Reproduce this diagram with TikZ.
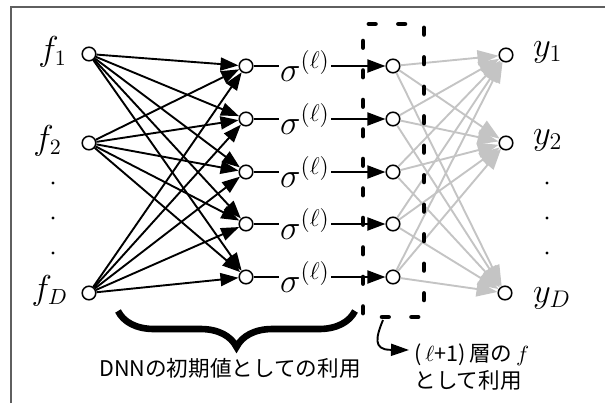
\documentclass[tikz,border=0pt]{standalone}
\usepackage{fontspec}
\newfontfamily\cjk{Noto Sans CJK JP}
\usetikzlibrary{arrows.meta,decorations.pathreplacing}
\definecolor{edgegray}{RGB}{196,196,196}
\definecolor{framegray}{RGB}{95,95,95}
\begin{document}
\begin{tikzpicture}[x=0.5pt,y=-0.5pt,
  neuron/.style={circle,draw,line width=0.75pt,minimum size=6.8pt,inner sep=0pt,fill=white},
  blackedge/.style={line width=0.95pt,-{Triangle[length=9pt,width=6.5pt]}},
  sigedge/.style={line width=0.95pt,-{Triangle[length=9pt,width=6.5pt]}},
  grayedge/.style={line width=0.95pt,draw=edgegray,-{Triangle[length=10.5pt,width=7.5pt,color=edgegray]}},
  inlabel/.style={font=\fontsize{16}{16}\selectfont,anchor=east},
  outlabel/.style={font=\fontsize{17}{17}\selectfont,anchor=west},
  siglabel/.style={font=\fontsize{17.5}{17.5}\selectfont,inner sep=0.5pt},
  jptext/.style={font=\cjk\fontsize{10.8}{13.5}\selectfont,inner sep=0pt},
  dotmark/.style={circle,fill=black,inner sep=0pt,minimum size=1.6pt}
]
\useasboundingbox (0,0) rectangle (605,403);
% frame
\draw[framegray,line width=0.75pt] (11,403) -- (11,7) -- (605,7);

% nodes
\node[neuron] (I1) at (89,54) {};
\node[neuron] (I2) at (89,143) {};
\node[neuron] (I3) at (89,293) {};
\foreach \i/\y in {1/66,2/119,3/172,4/224,5/277}{
  \node[neuron] (H\i) at (246,\y) {};
  \node[neuron] (S\i) at (393,\y) {};
  \node[siglabel] (G\i) at (305,\y) {$\sigma^{(\ell)}$};
}
\node[neuron] (O1) at (506,55) {};
\node[neuron] (O2) at (506,143) {};
\node[neuron] (O3) at (505,293) {};

% labels
\node[inlabel] (lf1) at (74,52) {$f_1$};
\node[inlabel] (lf2) at (69,141) {$f_2$};
\node[inlabel] (lfD) at (75,291) {$f_D$};
\node[outlabel] (ly1) at (526,52) {$y_1$};
\node[outlabel] (ly2) at (526,140) {$y_2$};
\node[outlabel] (lyD) at (526,298) {$y_D$};

% vertical dots
\foreach \y [count=\k] in {183,218,253}{
  \node[dotmark] (dl\k) at (53,\y) {};
  \node[dotmark] (dr\k) at (547,\y) {};
}

% gray edges
\foreach \i in {1,...,5}{
  \foreach \o in {1,2,3}{
    \draw[grayedge] (S\i) -- (O\o);
  }
}

% dashed box
\coordinate (r1) at (363,24);
\coordinate (r2) at (424,24);
\coordinate (r3) at (424,317);
\coordinate (r4) at (363,317);
\draw[line width=2.4pt,line cap=round,dash pattern=on 3.2pt off 11.55pt,dash phase=11.75pt]
  (r1) -- (r2) -- (r3) -- (r4) -- cycle;

% black edges
\foreach \a in {1,2,3}{
  \foreach \h in {1,...,5}{
    \draw[blackedge] (I\a) -- (H\h);
  }
}
\foreach \i in {1,...,5}{
  \draw[line width=0.95pt] (H\i) -- (G\i);
  \draw[sigedge] (G\i) -- (S\i);
}

% brace
\coordinate (bl) at (118,311);
\coordinate (br) at (355,311);
\draw[decorate,decoration={brace,mirror,amplitude=18pt},line width=3.3pt] (bl) -- (br);

% texts
\node[jptext] (dnn) at (230,368) {DNNの初期値としての利用};
\node[jptext,anchor=west,align=left] (layer) at (414,367) {(\,$\ell$+1)\,層の\,$f$\\として利用};

% hook arrow
\coordinate (hs) at (383,320);
\coordinate (he) at (409,350);
\draw[line width=0.95pt,-{Triangle[length=9pt,width=6pt]}]
  (hs) .. controls (376,337) and (373,349.5) .. (390,349.8) -- (he);
\end{tikzpicture}
\end{document}
